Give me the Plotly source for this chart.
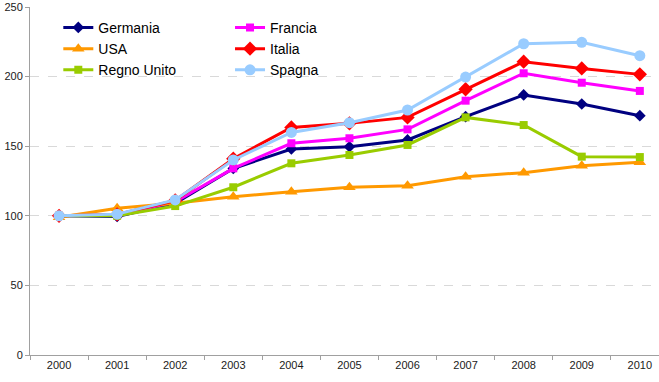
import plotly.graph_objects as go

years = ["2000", "2001", "2002", "2003", "2004", "2005", "2006", "2007", "2008", "2009", "2010"]

germania = [100, 99.5, 109, 134, 148, 149.6, 154.5, 171.2, 186.8, 180.3, 171.9]
francia = [100, 100.5, 110, 134.1, 152.1, 155.7, 162.1, 182.7, 202.4, 195.6, 189.7]
usa = [99, 105.4, 109, 113.7, 117.3, 120.5, 121.6, 128.1, 131.0, 136.0, 138.4]
italia = [100, 101, 111, 141, 163.5, 166.4, 170.7, 190.9, 210.7, 205.9, 201.6]
regno_unito = [100, 100, 107, 120.5, 137.7, 143.7, 150.9, 170.7, 165.2, 142.5, 142.2]
spagna = [100, 101.2, 111.4, 140.1, 159.9, 166.9, 176.0, 199.7, 223.6, 224.6, 215.0]

series = [
    ("Germania", germania, "#000080", "diamond", 9, "legend"),
    ("Francia", francia, "#FF00FF", "square", 8, "legend2"),
    ("USA", usa, "#FF9900", "triangle-up", 11, "legend"),
    ("Italia", italia, "#FF0000", "diamond", 11, "legend2"),
    ("Regno Unito", regno_unito, "#99CC00", "square", 8, "legend"),
    ("Spagna", spagna, "#99CCFF", "circle", 11, "legend2"),
]

fig = go.Figure()
for name, vals, color, sym, size, leg in series:
    fig.add_trace(go.Scatter(
        x=years, y=vals, name=name, mode="lines+markers",
        line=dict(color=color, width=3),
        marker=dict(symbol=sym, size=size, color=color),
        legend=leg,
    ))

legend_font = dict(family="Liberation Sans, Arial, sans-serif", size=14, color="#000000")
fig.update_layout(
    width=659, height=382,
    margin=dict(l=30, r=0, t=7, b=27),
    paper_bgcolor="white", plot_bgcolor="white",
    font=dict(family="Liberation Sans, Arial, sans-serif", size=11, color="#1a1a1a"),
    legend=dict(x=0.045, y=0.986, xanchor="left", yanchor="top", font=legend_font,
                bgcolor="rgba(0,0,0,0)", tracegroupgap=0, itemwidth=30),
    legend2=dict(x=0.318, y=0.986, xanchor="left", yanchor="top", font=legend_font,
                 bgcolor="rgba(0,0,0,0)", tracegroupgap=0, itemwidth=30),
    xaxis=dict(type="category", range=[-0.5, 10.33], tickson="boundaries",
               ticks="outside", ticklen=4, tickcolor="#a0a0a0",
               showline=True, linecolor="#a0a0a0", linewidth=1,
               showgrid=False, zeroline=False, automargin=False),
    yaxis=dict(range=[0, 250], dtick=50, tick0=0,
               ticks="outside", ticklen=4, tickcolor="#a0a0a0",
               showline=True, linecolor="#a0a0a0", linewidth=1,
               showgrid=True, gridcolor="#d9d9d9", griddash="dash", gridwidth=1,
               zeroline=False, automargin=False),
)

fig.write_html(
    "out.html",
    config={"displayModeBar": False},
    post_script="document.body.style.margin='0';document.body.style.overflow='hidden';",
)
